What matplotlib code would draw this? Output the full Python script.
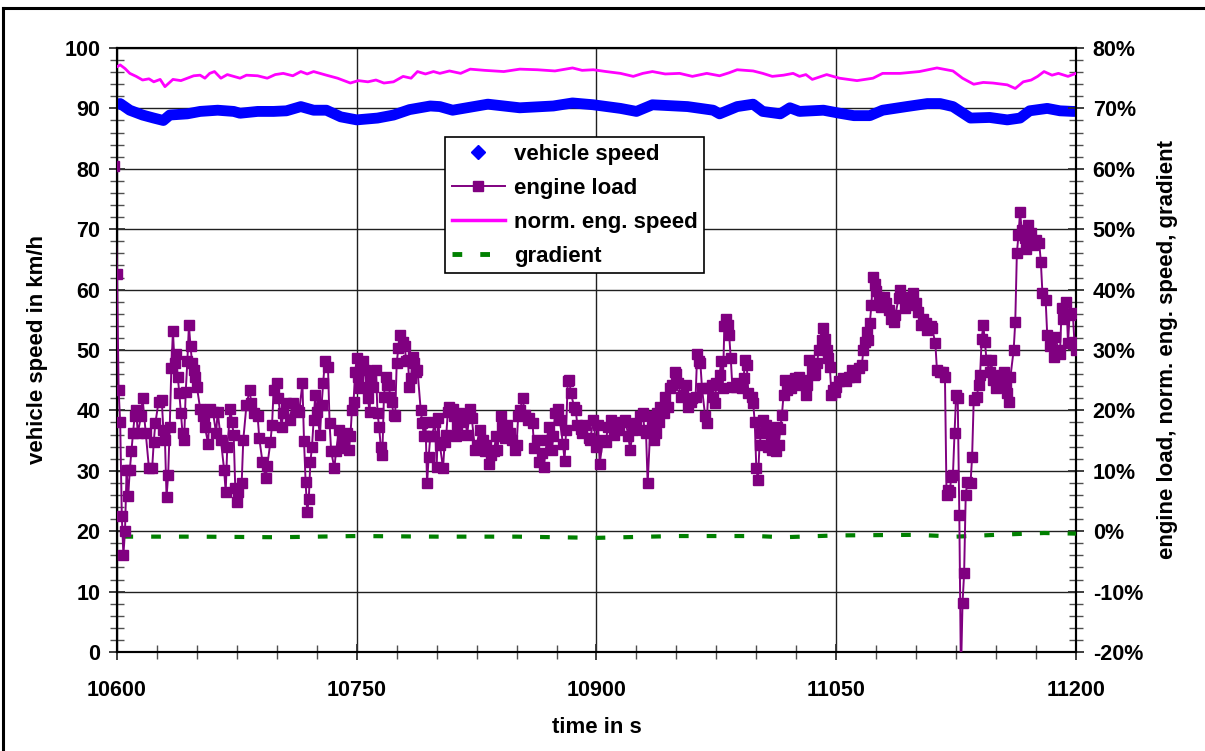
import numpy as np
import matplotlib
matplotlib.use('Agg')
import matplotlib.pyplot as plt
from matplotlib.lines import Line2D
from matplotlib.ticker import MultipleLocator, FuncFormatter

plt.rcParams['font.family'] = ['Liberation Sans', 'DejaVu Sans']
plt.rcParams['font.weight'] = 'bold'
plt.rcParams['lines.scale_dashes'] = False

# vehicle speed in km/h
speed_t = [10600, 10602, 10608, 10616, 10623, 10629, 10633, 10644, 10652, 10663,
           10673, 10677, 10688, 10698, 10706, 10715, 10723, 10731, 10740, 10750,
           10763, 10773, 10783, 10796, 10802, 10810, 10832, 10852, 10873, 10885,
           10898, 10915, 10925, 10935, 10957, 10973, 10977, 10988, 10998, 11004,
           11015, 11021, 11027, 11042, 11052, 11061, 11071, 11079, 11094, 11107,
           11115, 11123, 11134, 11146, 11157, 11165, 11171, 11182, 11190, 11198,
           11200]
speed = [90.7, 90.8, 89.7, 88.9, 88.4, 88.0, 88.9, 89.1, 89.5, 89.7,
         89.5, 89.2, 89.5, 89.5, 89.6, 90.3, 89.7, 89.7, 88.6, 88.1,
         88.4, 88.9, 89.8, 90.4, 90.3, 89.7, 90.7, 90.1, 90.4, 90.9,
         90.6, 90.0, 89.5, 90.6, 90.3, 89.7, 89.1, 90.3, 90.7, 89.5,
         89.1, 90.1, 89.5, 89.7, 89.2, 88.8, 88.8, 89.7, 90.3, 90.8,
         90.8, 90.3, 88.4, 88.5, 88.1, 88.4, 89.6, 90.0, 89.6, 89.5,
         89.5]

# normalised engine speed in %
n_eng_t = [10600, 10602, 10605, 10608, 10612, 10616, 10620, 10623, 10627, 10630,
           10635, 10640, 10644, 10648, 10652, 10655, 10658, 10661, 10665, 10669,
           10673, 10677, 10681, 10688, 10694, 10699, 10704, 10710, 10715, 10719,
           10723, 10727, 10731, 10738, 10746, 10751, 10757, 10762, 10767, 10773,
           10779, 10784, 10788, 10793, 10798, 10802, 10808, 10815, 10821, 10830,
           10842, 10852, 10863, 10874, 10885, 10891, 10898, 10906, 10915, 10923,
           10929, 10935, 10943, 10952, 10960, 10969, 10977, 10983, 10988, 10998,
           11004, 11010, 11017, 11023, 11027, 11031, 11035, 11044, 11052, 11063,
           11073, 11079, 11090, 11102, 11113, 11123, 11129, 11136, 11142, 11148,
           11157, 11162, 11167, 11172, 11176, 11180, 11185, 11189, 11195, 11200]
n_eng = [76.9, 77.2, 76.6, 75.8, 75.3, 74.7, 74.9, 74.4, 74.8, 73.6,
         74.8, 74.6, 75.0, 75.4, 75.5, 75.0, 75.8, 76.1, 75.0, 75.6,
         75.3, 75.0, 75.5, 75.4, 75.0, 75.6, 75.8, 75.4, 76.1, 75.7,
         76.1, 75.8, 75.5, 75.0, 74.2, 74.6, 74.4, 74.7, 74.2, 74.4,
         75.3, 75.0, 76.1, 75.7, 76.1, 75.8, 76.2, 75.8, 76.5, 76.3,
         76.1, 76.5, 76.4, 76.2, 76.7, 76.3, 76.4, 76.1, 75.8, 75.3,
         75.8, 76.1, 75.7, 75.8, 75.3, 75.8, 75.4, 75.9, 76.4, 76.2,
         75.8, 75.3, 75.5, 75.8, 75.3, 75.6, 74.8, 75.6, 75.0, 74.6,
         75.0, 75.8, 75.8, 76.1, 76.7, 76.2, 75.0, 74.0, 74.3, 74.2,
         73.9, 73.3, 74.4, 74.7, 75.3, 76.1, 75.5, 75.8, 75.3, 75.8]

# road gradient in %
grad_t = [10604, 10650, 10700, 10750, 10800, 10850, 10900, 10950, 11000,
          11017, 11050, 11100, 11125, 11150, 11180, 11200]
grad = [-0.9, -0.9, -1.0, -0.8, -0.9, -0.9, -1.1, -0.8, -0.8,
        -1.0, -0.7, -0.6, -0.9, -0.6, -0.3, -0.4]

# engine load in %
load_t = [10598, 10600, 10601, 10602, 10603, 10604, 10605, 10606, 10607, 10608,
          10609, 10610, 10611, 10612, 10613, 10615, 10616, 10618, 10620, 10622,
          10623, 10624, 10626, 10628, 10629, 10630, 10631, 10632, 10633, 10634,
          10635, 10636, 10637, 10638, 10639, 10640, 10641, 10642, 10643, 10644,
          10645, 10646, 10647, 10648, 10649, 10650, 10652, 10654, 10655, 10657,
          10658, 10660, 10662, 10663, 10665, 10667, 10668, 10669, 10671, 10672,
          10673, 10674, 10675, 10676, 10678, 10679, 10681, 10683, 10684, 10686,
          10688, 10689, 10691, 10693, 10694, 10696, 10697, 10698, 10700, 10701,
          10703, 10704, 10706, 10708, 10710, 10712, 10714, 10716, 10717, 10718,
          10719, 10720, 10721, 10722, 10723, 10724, 10725, 10727, 10728, 10729,
          10730, 10732, 10733, 10734, 10736, 10737, 10739, 10741, 10742, 10744,
          10745, 10746, 10747, 10748, 10749, 10750, 10751, 10752, 10753, 10754,
          10755, 10756, 10757, 10758, 10759, 10760, 10762, 10763, 10764, 10765,
          10766, 10767, 10768, 10769, 10770, 10771, 10772, 10773, 10774, 10775,
          10776, 10777, 10779, 10780, 10781, 10782, 10783, 10784, 10785, 10786,
          10787, 10788, 10790, 10791, 10792, 10793, 10794, 10795, 10796, 10797,
          10799, 10800, 10801, 10802, 10804, 10805, 10806, 10807, 10808, 10810,
          10811, 10812, 10813, 10814, 10816, 10818, 10819, 10821, 10822, 10824,
          10825, 10827, 10829, 10830, 10831, 10833, 10834, 10836, 10837, 10838,
          10840, 10841, 10843, 10844, 10846, 10847, 10849, 10850, 10851, 10852,
          10854, 10855, 10857, 10858, 10860, 10861, 10863, 10864, 10866, 10867,
          10869, 10870, 10872, 10873, 10874, 10876, 10877, 10879, 10880, 10881,
          10882, 10883, 10884, 10886, 10887, 10888, 10890, 10891, 10893, 10895,
          10896, 10898, 10900, 10901, 10902, 10904, 10906, 10907, 10909, 10911,
          10912, 10914, 10916, 10918, 10920, 10921, 10923, 10925, 10927, 10929,
          10930, 10931, 10932, 10934, 10935, 10936, 10937, 10938, 10939, 10940,
          10942, 10943, 10945, 10946, 10947, 10949, 10950, 10951, 10953, 10954,
          10956, 10957, 10959, 10960, 10962, 10963, 10964, 10965, 10966, 10968,
          10969, 10970, 10972, 10973, 10974, 10975, 10977, 10978, 10979, 10980,
          10981, 10982, 10983, 10984, 10985, 10987, 10988, 10991, 10992, 10993,
          10994, 10995, 10997, 10998, 10999, 11000, 11001, 11002, 11003, 11004,
          11006, 11007, 11009, 11010, 11011, 11012, 11013, 11014, 11015, 11016,
          11017, 11018, 11019, 11021, 11022, 11024, 11025, 11027, 11029, 11031,
          11032, 11033, 11035, 11036, 11037, 11038, 11039, 11041, 11042, 11043,
          11044, 11045, 11046, 11047, 11048, 11049, 11050, 11052, 11054, 11056,
          11058, 11060, 11062, 11064, 11066, 11067, 11068, 11069, 11070, 11071,
          11072, 11073, 11074, 11075, 11077, 11078, 11080, 11081, 11083, 11084,
          11086, 11087, 11089, 11090, 11092, 11093, 11095, 11096, 11098, 11100,
          11101, 11103, 11104, 11106, 11107, 11109, 11110, 11112, 11113, 11115,
          11117, 11118, 11119, 11120, 11121, 11122, 11123, 11124, 11125, 11126,
          11127, 11128, 11129, 11130, 11131, 11132, 11134, 11135, 11136, 11138,
          11139, 11140, 11141, 11142, 11143, 11144, 11146, 11147, 11148, 11150,
          11152, 11153, 11155, 11156, 11157, 11158, 11159, 11161, 11162, 11163,
          11164, 11165, 11166, 11168, 11169, 11170, 11172, 11173, 11175, 11177,
          11178, 11179, 11181, 11182, 11184, 11186, 11187, 11189, 11190, 11191,
          11192, 11194, 11195, 11196, 11198, 11199, 11200]
load = [60.4, 42.6, 23.4, 18.0, 2.5, -3.9, 0.0, 10.1, 5.8, 10.1,
        13.2, 16.2, 19.0, 20.1, 16.2, 19.0, 22.0, 16.2, 10.4, 10.4,
        14.8, 17.9, 21.4, 21.7, 16.8, 15.1, 5.6, 9.3, 17.3, 27.0,
        33.1, 27.8, 29.4, 25.6, 22.8, 19.5, 16.2, 15.1, 23.1, 28.1,
        34.1, 30.6, 27.8, 26.7, 25.6, 23.9, 20.3, 19.0, 17.3, 14.5,
        20.3, 19.8, 16.2, 19.8, 15.1, 10.2, 6.5, 14.0, 20.3, 18.0,
        15.9, 7.1, 4.9, 6.5, 7.9, 15.1, 20.9, 23.4, 21.2, 19.5,
        19.0, 15.4, 11.5, 8.8, 10.8, 14.8, 17.6, 23.4, 24.5, 22.0,
        17.3, 19.5, 21.2, 18.4, 21.2, 20.1, 19.8, 24.5, 15.0, 8.2,
        3.1, 5.4, 11.5, 14.0, 18.4, 22.5, 19.8, 15.9, 20.9, 24.5,
        28.1, 27.2, 17.9, 13.2, 10.4, 13.2, 16.8, 15.1, 13.7, 16.2,
        13.4, 15.7, 20.1, 21.4, 26.4, 28.6, 25.6, 23.7, 27.8, 28.1,
        26.7, 23.9, 22.0, 19.8, 25.0, 23.9, 26.7, 19.5, 17.3, 14.0,
        12.6, 22.3, 25.6, 24.2, 24.2, 22.3, 21.4, 19.2, 19.0, 27.8,
        30.3, 32.5, 31.4, 30.6, 28.1, 28.3, 23.9, 25.3, 28.9, 27.8,
        26.4, 26.7, 20.1, 17.9, 15.7, 18.1, 7.9, 12.3, 15.7, 15.7,
        18.1, 10.7, 18.7, 14.3, 10.4, 14.8, 15.9, 19.8, 20.6, 20.3,
        19.0, 15.7, 17.6, 19.5, 18.1, 19.0, 15.9, 20.3, 18.7, 13.4,
        14.3, 16.8, 15.1, 13.2, 14.3, 11.2, 12.6, 13.2, 15.7, 13.4,
        19.0, 17.3, 15.4, 17.6, 16.2, 15.1, 13.4, 14.3, 19.0, 20.1,
        22.0, 19.2, 18.4, 18.7, 17.9, 13.7, 15.1, 11.5, 12.9, 10.7,
        15.1, 17.3, 13.4, 15.7, 19.5, 20.3, 18.4, 14.5, 11.7, 16.8,
        24.8, 25.0, 22.8, 20.6, 20.1, 17.6, 17.0, 16.2, 17.6, 15.4,
        15.1, 18.4, 14.0, 17.6, 11.2, 15.1, 14.8, 17.3, 18.4, 15.9,
        17.6, 16.8, 18.1, 18.4, 15.7, 13.4, 16.8, 17.9, 19.0, 19.5,
        16.8, 16.2, 7.9, 19.0, 17.3, 15.1, 16.2, 19.5, 18.1, 20.6,
        19.5, 22.3, 20.6, 23.7, 24.2, 26.4, 26.1, 24.5, 22.3, 22.5,
        24.2, 20.6, 21.4, 22.0, 22.3, 29.4, 28.1, 27.8, 23.7, 19.0,
        17.9, 23.7, 24.2, 22.3, 21.2, 24.5, 25.9, 28.1, 23.7, 33.9,
        35.2, 34.1, 32.5, 28.6, 23.9, 23.9, 24.5, 23.7, 25.3, 28.3,
        27.5, 22.8, 22.3, 21.2, 18.1, 10.4, 8.5, 14.3, 16.2, 18.4,
        17.6, 14.0, 15.7, 13.4, 16.2, 13.2, 17.3, 14.3, 17.0, 19.2,
        22.5, 25.0, 23.4, 24.5, 23.7, 25.3, 24.2, 25.6, 25.0, 22.5,
        24.2, 28.3, 26.7, 25.9, 26.1, 27.8, 30.0, 31.7, 33.6, 31.9,
        30.0, 28.6, 27.2, 22.5, 23.4, 23.1, 23.9, 24.8, 25.3, 24.8,
        25.6, 26.7, 25.6, 27.0, 27.5, 30.0, 31.4, 33.0, 31.7, 34.4,
        37.5, 42.1, 41.0, 39.7, 38.8, 37.2, 38.8, 37.7, 36.6, 35.2,
        34.7, 35.8, 38.6, 39.9, 38.8, 36.9, 37.5, 38.6, 39.4, 37.7,
        36.3, 34.1, 35.2, 34.4, 33.3, 33.9, 33.6, 31.1, 26.7, 26.4,
        26.4, 25.6, 6.0, 6.8, 6.5, 9.0, 9.3, 16.2, 22.5, 22.0,
        2.7, -24.0, -11.9, -7.0, 6.0, 8.2, 7.9, 12.3, 21.7, 22.3,
        24.2, 25.9, 31.9, 34.1, 31.4, 28.3, 26.4, 28.3, 25.0, 23.7,
        24.8, 25.9, 26.4, 24.5, 22.8, 21.4, 25.6, 30.0, 34.7, 46.0,
        49.0, 52.9, 49.9, 48.5, 46.8, 50.7, 49.3, 47.4, 48.2, 47.7,
        44.6, 39.4, 38.3, 32.5, 30.6, 28.9, 32.2, 30.0, 29.4, 36.9,
        35.2, 38.0, 31.1, 35.8, 36.1, 31.4, 30.0]

x_major = list(range(10600, 11201, 150))
x_minor = list(range(10600, 11201, 25))

W, H = 1205, 751
fig = plt.figure(figsize=(W / 100, H / 100), dpi=100)
ax = fig.add_axes([117 / W, 1 - 652 / H, (1076 - 117) / W, (652 - 48) / H])
ax2 = ax.twinx()

# left axis: vehicle speed
ax.plot(speed_t, speed, color='#0000FF', lw=7.8, solid_capstyle='round',
        solid_joinstyle='round', zorder=3)
ax.set_xlim(10600, 11200)
ax.set_ylim(0, 100)
ax.set_xticks(x_major)
ax.set_xticks(x_minor, minor=True)
ax.yaxis.set_major_locator(MultipleLocator(10))
ax.yaxis.set_minor_locator(MultipleLocator(2))
ax.grid(True, which='major', color='#202020', lw=1.0)
ax.set_axisbelow(True)
ax.tick_params(which='major', direction='inout', length=12, width=1.3,
               labelsize=15.5, color='#303030')
ax.tick_params(which='minor', direction='inout', length=10, width=1.0,
               color='#505050')
ax.tick_params(axis='x', pad=14)
ax.tick_params(axis='y', pad=6)
ax.set_xlabel('time in s', fontsize=16, fontweight='bold', labelpad=12)
ax.set_ylabel('vehicle speed in km/h', fontsize=16, fontweight='bold', labelpad=12)

# right axis: engine load, engine speed, gradient
ax2.plot(n_eng_t, n_eng, color='#FF00FF', lw=2.0, zorder=3)
ax2.plot(grad_t, grad, color='#008000', lw=3.0, dashes=[7, 13], zorder=3)
l_load, = ax2.plot(load_t, load, color='#800080', lw=1.4, marker='s', ms=7.3,
                   mfc='#800080', mec='#800080', zorder=4)
ax2.set_ylim(-20, 80)
ax2.yaxis.set_major_locator(MultipleLocator(10))
ax2.yaxis.set_minor_locator(MultipleLocator(2))
ax2.yaxis.set_major_formatter(FuncFormatter(lambda v, p: f'{v:.0f}%'))
ax2.tick_params(which='major', direction='inout', length=12, width=1.3,
                labelsize=15.5, color='#303030', pad=6)
ax2.tick_params(which='minor', direction='inout', length=10, width=1.0,
                color='#505050')
ax2.set_ylabel('engine load, norm. eng. speed, gradient', fontsize=16,
               fontweight='bold', labelpad=10)

for a in (ax, ax2):
    for s in a.spines.values():
        s.set_linewidth(1.5)
        s.set_color('black')
    for lab in a.get_xticklabels() + a.get_yticklabels():
        lab.set_fontweight('bold')

handles = [
    Line2D([], [], color='#0000FF', marker='D', ls='none', ms=7),
    Line2D([], [], color='#800080', lw=1.4, marker='s', ms=7.3),
    Line2D([], [], color='#FF00FF', lw=2.5),
    Line2D([], [], color='#008000', lw=3.5, dashes=[7, 13]),
]
labels = ['vehicle speed', 'engine load', 'norm. eng. speed', 'gradient']
leg = ax2.legend(handles, labels, loc='upper left', bbox_to_anchor=(0.342, 0.852),
                 prop={'weight': 'bold', 'size': 16},
                 frameon=True, fancybox=False, edgecolor='black', framealpha=1,
                 handlelength=2.4, handletextpad=0.4, labelspacing=0.58,
                 borderpad=0.3, borderaxespad=0)
leg.get_frame().set_linewidth(1.2)

# outer chart border
fig.add_artist(Line2D([3 / W, 1], [1 - 8 / H, 1 - 8 / H], color='black', lw=2.2,
                      transform=fig.transFigure))
fig.add_artist(Line2D([3 / W, 3 / W], [0, 1 - 8 / H], color='black', lw=2.2,
                      transform=fig.transFigure))

fig.savefig('out.png', dpi=100)
